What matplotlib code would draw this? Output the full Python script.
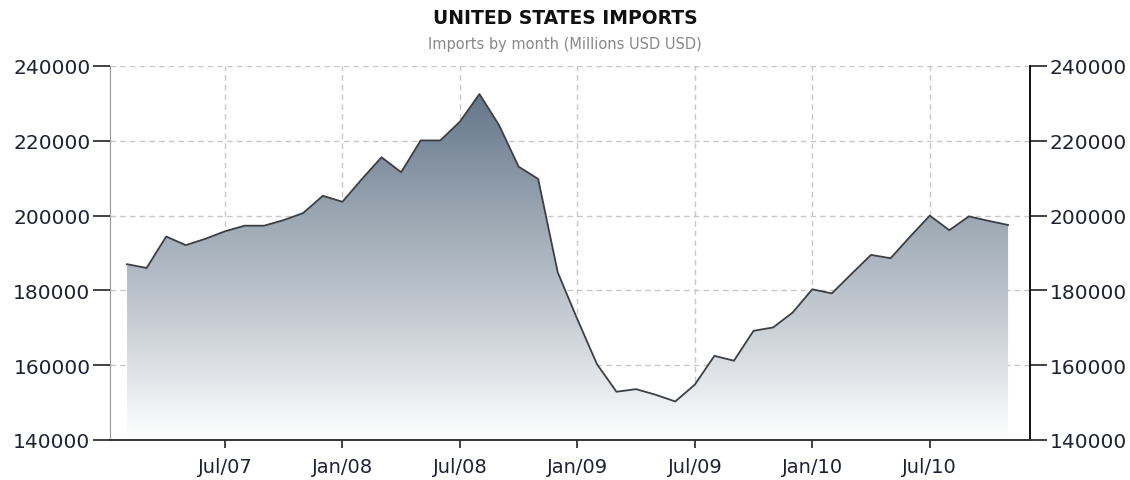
import numpy as np
import matplotlib
matplotlib.use("Agg")
import matplotlib.pyplot as plt
from matplotlib.colors import LinearSegmentedColormap

# monthly imports, Feb 2007 .. Nov 2010 (millions USD)
imports = [
    187000, 186000, 194400, 192100, 193800, 195800, 197300, 197300, 198800, 200700, 205300,
    203700, 209800, 215600, 211600, 220100, 220100, 225100, 232500, 224200, 213100, 209800, 184800,
    172300, 160300, 152900, 153600, 152100, 150300, 154800, 162500, 161200, 169200, 170100, 174100,
    180300, 179200, 184400, 189500, 188600, 194400, 200000, 196100, 199800, 198600, 197500,
]
tick_months = [5, 11, 17, 23, 29, 35, 41]
tick_labels = ["Jul/07", "Jan/08", "Jul/08", "Jan/09", "Jul/09", "Jan/10", "Jul/10"]
y_ticks = [140000, 160000, 180000, 200000, 220000, 240000]

months = np.arange(len(imports))
W, H = 1130, 481
fig = plt.figure(figsize=(W / 100, H / 100), dpi=100)
ax = fig.add_axes([110 / W, 1 - 441 / H, 920 / W, 374 / H])

ymin, ymax = 140000, 240000
ax.set_xlim(-0.87, 46.12)
ax.set_ylim(ymin, ymax)

# gradient fill under the curve
cmap = LinearSegmentedColormap.from_list("slate", ["#ffffff", "#c9cfd6", "#98a4b0", "#66778a"])
grad = np.linspace(0, 1, 256).reshape(-1, 1)
img = ax.imshow(grad, extent=[0, len(imports) - 1, ymin, max(imports)], origin="lower",
                aspect="auto", cmap=cmap, zorder=1)
clip = plt.Polygon(np.vstack([np.column_stack([months, imports]),
                              [[months[-1], ymin], [0, ymin]]]),
                   closed=True, transform=ax.transData, facecolor="none", edgecolor="none")
ax.add_patch(clip)
img.set_clip_path(clip)
ax.plot(months, imports, color="#3c3f44", lw=1.3, zorder=3)

ax.grid(True, color="#c8c8c8", linestyle=(0, (4, 3)), lw=1, zorder=0)
ax.set_axisbelow(True)

ax.set_xticks(tick_months)
ax.set_xticklabels(tick_labels)
ax.set_yticks(y_ticks)
ax.tick_params(axis="y", which="both", left=True, right=True, labelleft=True, labelright=True,
               direction="out", length=12, width=1.2, labelsize=14.5, colors="#222222", pad=2)
ax.tick_params(axis="x", direction="out", length=6, width=1.2, labelsize=14, colors="#222222", pad=6)
for lbl in ax.get_yticklabels() + ax.get_xticklabels():
    lbl.set_color("#1f2233")

ax.spines["top"].set_visible(False)
ax.spines["left"].set_color("#999999")
ax.spines["right"].set_color("#111111")
ax.spines["right"].set_linewidth(1.4)
ax.spines["bottom"].set_color("#333333")
ax.spines["bottom"].set_linewidth(1.4)

fig.text(0.5, 1 - 19 / H, "UNITED STATES IMPORTS", ha="center", va="center",
         fontsize=13.5, fontweight="bold", color="#111111")
fig.text(0.5, 1 - 45 / H, "Imports by month (Millions USD USD)", ha="center", va="center",
         fontsize=10.5, color="#888888")

fig.savefig("out.png", dpi=100)
